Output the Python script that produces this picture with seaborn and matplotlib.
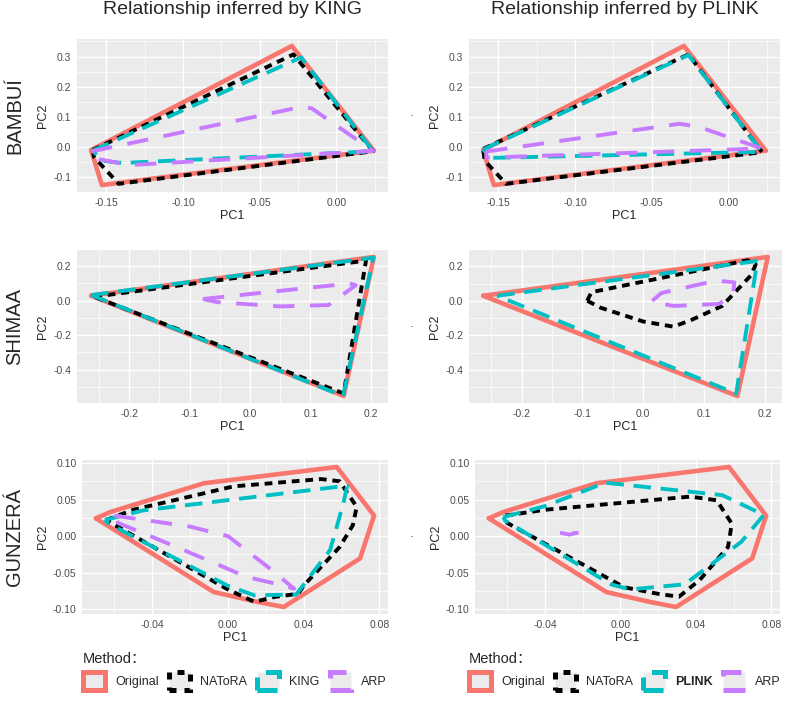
import matplotlib.pyplot as plt
import matplotlib.patches as mpatches
from matplotlib.ticker import AutoMinorLocator, FormatStrFormatter, MultipleLocator
import pandas as pd
import seaborn as sns

POPULATIONS = ["BAMBUÍ", "SHIMAA", "GUNZERÁ"]
TOOLS = ["KING", "PLINK"]
METHOD_COLORS = ["#F8766D", "black", "#00BFC4", "#C77CFF"]

# convex hulls (PC1, PC2) of the retained samples, vertices
bambui_original = [(-0.160, -0.010), (-0.029, 0.335), (0.0245, -0.012), (-0.153, -0.126)]
bambui_king_natora = [(-0.159, -0.010), (-0.028, 0.307), (0.024, -0.014), (-0.142, -0.122),
                      (-0.150, -0.078), (-0.158, -0.034)]
bambui_king_king = [(-0.159, -0.012), (-0.023, 0.297), (0.024, -0.014), (-0.140, -0.053),
                    (-0.153, -0.045)]
bambui_king_arp = [(-0.160, -0.015), (-0.022, 0.134), (-0.016, 0.128), (0.024, -0.013),
                   (-0.135, -0.060), (-0.155, -0.040)]
bambui_plink_natora = [(-0.160, -0.006), (-0.026, 0.307), (0.022, -0.017), (-0.145, -0.122),
                       (-0.159, -0.045)]
bambui_plink_plink = [(-0.160, -0.008), (-0.026, 0.305), (0.022, -0.016), (-0.155, -0.036)]
bambui_plink_arp = [(-0.158, -0.015), (-0.032, 0.077), (-0.020, 0.068), (0.022, -0.005),
                    (-0.158, -0.035)]

shimaa_original = [(-0.263, 0.029), (0.205, 0.254), (0.155, -0.552)]
shimaa_king_natora = [(-0.258, 0.023), (0.192, 0.233), (0.155, -0.538)]
shimaa_king_king = [(-0.263, 0.033), (0.204, 0.250), (0.154, -0.553)]
shimaa_king_arp = [(-0.078, 0.010), (0.165, 0.100), (0.175, 0.090), (0.130, -0.025),
                   (0.050, -0.033), (-0.055, -0.008)]
shimaa_plink_natora = [(-0.092, 0.000), (-0.085, 0.050), (0.172, 0.235), (0.185, 0.210),
                       (0.178, 0.150), (0.130, -0.030), (0.080, -0.110), (0.050, -0.150),
                       (0.000, -0.120), (-0.070, -0.040)]
shimaa_plink_plink = [(-0.240, 0.029), (0.188, 0.231), (0.153, -0.538)]
shimaa_plink_arp = [(0.015, 0.000), (0.030, 0.045), (0.120, 0.117), (0.150, 0.107),
                    (0.148, 0.040), (0.125, -0.018), (0.050, -0.030), (0.020, -0.010)]

gunzera_original = [(-0.0697, 0.0243), (-0.062, 0.033), (-0.0126, 0.0723), (0.0575, 0.0945),
                    (0.0772, 0.028), (0.0698, -0.0305), (0.0295, -0.097), (0.0155, -0.090),
                    (-0.0075, -0.0765)]
gunzera_king_natora = [(-0.0644, 0.022), (-0.050, 0.036), (0.003, 0.068), (0.049, 0.078),
                       (0.059, 0.075), (0.068, 0.040), (0.066, 0.015), (0.059, -0.015),
                       (0.041, -0.065), (0.037, -0.079), (0.025, -0.083), (0.014, -0.090),
                       (0.000, -0.073)]
gunzera_king_king = [(-0.065, 0.022), (-0.045, 0.035), (0.063, 0.069), (0.061, 0.045),
                     (0.054, -0.019), (0.036, -0.080), (0.014, -0.081), (0.000, -0.068),
                     (-0.063, 0.017)]
gunzera_king_arp = [(-0.060, 0.028), (-0.020, 0.013), (0.000, 0.000), (0.020, -0.040),
                    (0.035, -0.072), (0.030, -0.068), (0.010, -0.056), (-0.027, -0.015),
                    (-0.058, 0.018)]
gunzera_plink_natora = [(-0.061, 0.028), (-0.040, 0.036), (0.037, 0.054), (0.051, 0.049),
                        (0.059, 0.017), (0.057, -0.015), (0.042, -0.060), (0.031, -0.083),
                        (0.020, -0.079), (0.002, -0.070), (-0.060, 0.018)]
gunzera_plink_plink = [(-0.062, 0.026), (-0.040, 0.041), (-0.008, 0.073), (0.054, 0.056),
                       (0.076, 0.029), (0.064, -0.008), (0.034, -0.066), (0.005, -0.073),
                       (-0.005, -0.066), (-0.061, 0.021)]
gunzera_plink_arp = [(-0.032, 0.0045), (-0.027, 0.002), (-0.023, 0.0045), (-0.027, 0.0035)]

HULLS = {
    ("BAMBUÍ", "KING"): [bambui_original, bambui_king_natora, bambui_king_king, bambui_king_arp],
    ("BAMBUÍ", "PLINK"): [bambui_original, bambui_plink_natora, bambui_plink_plink, bambui_plink_arp],
    ("SHIMAA", "KING"): [shimaa_original, shimaa_king_natora, shimaa_king_king, shimaa_king_arp],
    ("SHIMAA", "PLINK"): [shimaa_original, shimaa_plink_natora, shimaa_plink_plink, shimaa_plink_arp],
    ("GUNZERÁ", "KING"): [gunzera_original, gunzera_king_natora, gunzera_king_king, gunzera_king_arp],
    ("GUNZERÁ", "PLINK"): [gunzera_original, gunzera_plink_natora, gunzera_plink_plink, gunzera_plink_arp],
}

# tick step x, tick step y, formats
TICKS = {
    "BAMBUÍ": (0.05, 0.1, "%.2f", "%.1f"),
    "SHIMAA": (0.1, 0.2, "%.1f", "%.1f"),
    "GUNZERÁ": (0.04, 0.05, "%.2f", "%.2f"),
}

W, H = 787, 703
ROW_Y = [(39, 192), (250, 403), (460, 614)]
COL_X = [[(77, 388), (469, 780)], [(77, 388), (469, 782)], [(82, 388), (475, 780)]]
DASHES = [(None, None), (2.0, 1.5), (4.5, 2.5), (5.5, 4.0)]
WIDTHS = [3.3, 2.8, 2.8, 2.8]
# dash patterns for the square legend keys (in units of key line width)
KEY_DASHES = [None, (1.4, 1.6), (4.0, 2.7), (4.4, 4.4)]

sns.set_theme(style="darkgrid")
plt.rcParams.update({
    "font.family": ["Liberation Sans", "Noto Sans CJK SC", "DejaVu Sans"],
    "axes.unicode_minus": False,
    "axes.facecolor": "#EBEBEB",
    "grid.color": "white",
})


def methods_for(tool):
    return ["Original", "NAToRA", tool, "ARP"]


def hull_frame(hulls, tool):
    rows = []
    for method, pts in zip(methods_for(tool), hulls):
        for x, y in pts + pts[:1]:
            rows.append({"Method": method, "PC1": x, "PC2": y})
    return pd.DataFrame(rows)


fig = plt.figure(figsize=(W / 100, H / 100), dpi=100)

for r, pop in enumerate(POPULATIONS):
    top, bot = ROW_Y[r]
    for c, tool in enumerate(TOOLS):
        left, right = COL_X[r][c]
        ax = fig.add_axes([left / W, 1 - bot / H, (right - left) / W, (bot - top) / H])
        methods = methods_for(tool)
        df = hull_frame(HULLS[(pop, tool)], tool)
        sns.lineplot(
            data=df, x="PC1", y="PC2",
            hue="Method", style="Method", size="Method",
            hue_order=methods, style_order=methods, size_order=methods,
            palette=dict(zip(methods, METHOD_COLORS)),
            dashes={m: ("" if d[0] is None else d) for m, d in zip(methods, DASHES)},
            sizes=dict(zip(methods, WIDTHS)),
            sort=False, estimator=None, legend=False, ax=ax,
        )
        sx, sy, fx, fy = TICKS[pop]
        ax.xaxis.set_major_locator(MultipleLocator(sx))
        ax.yaxis.set_major_locator(MultipleLocator(sy))
        ax.xaxis.set_minor_locator(AutoMinorLocator(2))
        ax.yaxis.set_minor_locator(AutoMinorLocator(2))
        ax.xaxis.set_major_formatter(FormatStrFormatter(fx))
        ax.yaxis.set_major_formatter(FormatStrFormatter(fy))
        ax.grid(which="major", color="white", linewidth=1.0)
        ax.grid(which="minor", color="white", linewidth=0.5)
        ax.tick_params(which="major", length=2.5, width=0.8, color="#333333",
                       labelsize=7.5, labelcolor="#4D4D4D", pad=1.5)
        ax.tick_params(which="minor", length=0)
        ax.set_xlabel("PC1", fontsize=9, labelpad=2)
        ax.set_ylabel("PC2", fontsize=9, labelpad=3)
        for s in ax.spines.values():
            s.set_visible(False)
        if c == 1:
            fig.text(412 / W, 1 - (top + bot) / 2 / H, "-", fontsize=5,
                     ha="center", va="center", color="#333333")
    fig.text(15 / W, 1 - (top + bot) / 2 / H, pop, rotation=90, fontsize=14.5,
             ha="center", va="center")

for c, tool in enumerate(TOOLS):
    left, right = COL_X[0][c]
    fig.text((left + right) / 2 / W, 1 - 10 / H, f"Relationship inferred by {tool}",
             fontsize=14, ha="center", va="center")

# legends, one per column
LEG_X = [83, 469]
for c, tool in enumerate(TOOLS):
    handles = [
        mpatches.Patch(facecolor="#EBEBEB", edgecolor=col, linewidth=3.6,
                       linestyle="-" if d is None else (0, d), label=m)
        for m, col, d in zip(methods_for(tool), METHOD_COLORS, KEY_DASHES)
    ]
    leg = fig.legend(
        handles=handles, title="Method：", ncol=4, loc="upper left",
        bbox_to_anchor=(LEG_X[c] / W, 1 - 652 / H), frameon=False,
        fontsize=9, title_fontsize=10.5, alignment="left",
        handlelength=1.75, handleheight=1.75, handletextpad=0.8,
        columnspacing=0.8, borderpad=0, borderaxespad=0,
    )
    leg.get_texts()[2].set_fontweight("bold" if tool == "PLINK" else "normal")

fig.savefig("out.png", dpi=100)
